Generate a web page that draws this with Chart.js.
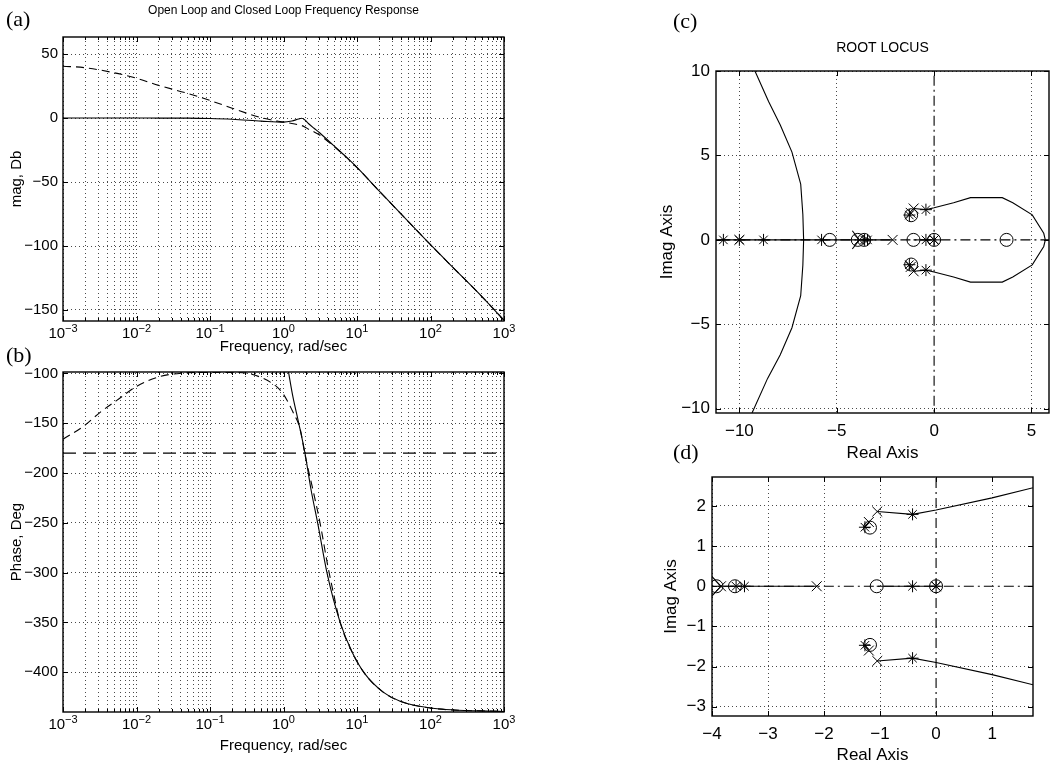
<!DOCTYPE html>
<html>
<head>
<meta charset="utf-8">
<script src="https://cdn.jsdelivr.net/npm/chart.js@4.4.0/dist/chart.umd.min.js"></script>
<style>
  html, body { margin: 0; padding: 0; background: #fff; }
  #fig { position: relative; width: 1057px; height: 771px; overflow: hidden; background: #fff; }
  #fig canvas { position: absolute; left: 0; top: 0; }
  .tag { position: absolute; font-family: "Liberation Serif", "Times New Roman", serif; font-size: 22px; line-height: 22px; color: #000; }
</style>
</head>
<body>
<div id="fig">
  <canvas id="magPlot" width="1057" height="771"></canvas>
  <canvas id="phasePlot" width="1057" height="771"></canvas>
  <canvas id="locusPlot" width="1057" height="771"></canvas>
  <canvas id="locusZoom" width="1057" height="771"></canvas>
  <div class="tag" style="left:6px;top:8px">(a)</div>
  <div class="tag" style="left:6px;top:344px">(b)</div>
  <div class="tag" style="left:673px;top:10px">(c)</div>
  <div class="tag" style="left:673px;top:441px">(d)</div>
</div>
<script>
const SANS = '"Liberation Sans", Arial, Helvetica, sans-serif';
const GRID = '#4a4a4a';

// Bode magnitude, dB (solid = closed loop, dashed = open loop)
const freqMag   = [0.001, 0.002, 0.005, 0.01, 0.02, 0.05, 0.1, 0.2, 0.5, 1, 1.3, 1.6, 1.77, 1.95, 2.2, 2.6, 3.1, 4.7, 7, 10, 20, 50, 100, 200, 500, 1000];
const magClosed = [0, 0, 0, 0, -0.05, -0.1, -0.4, -1.0, -2.4, -3.2, -2.3, -0.8, -0.2, -1.5, -4.5, -8, -11.5, -21, -30, -38.6, -57, -81, -99, -116.5, -139.5, -158];
const magOpen   = [40.5, 39.3, 35.3, 31.1, 25.5, 19.2, 13.7, 7.7, 0.2, -3.2, -4.3, -5.3, -5.9, -7, -8.8, -10.8, -13.3, -21.5, -30.2, -38.7, -57, -81, -99, -116.5, -139.5, -158];

// Bode phase, degrees
const freqOpen    = [0.001, 0.0019, 0.0032, 0.0054, 0.01, 0.021, 0.044, 0.075, 0.21, 0.38, 0.8, 1, 1.35, 1.7, 1.94, 2.5, 3.14, 4, 4.7, 5.9, 8.6, 12.9, 22.7, 38, 100, 1000];
const phaseOpen   = [-166, -153, -139, -127, -113, -103, -99.5, -99, -99, -101, -113, -121, -139, -157, -180, -216, -250, -293, -318, -350, -380, -402, -420, -429, -436, -439.5];
const freqClosed  = [1.16, 1.34, 1.58, 1.96, 2.36, 2.95, 3.9, 5.9, 8.6, 12.9, 22.7, 38, 100, 1000];
const phaseClosed = [-97, -123, -147, -180, -216, -252, -300, -350, -380, -402, -420, -429, -436, -439.5];
const phaseRef = -180;

const magTicks = [-150, -100, -50, 0, 50];
const phaseTicks = [-400, -350, -300, -250, -200, -150, -100];
const decades = [-3, -2, -1, 0, 1, 2, 3];

// Root locus branches
const leftBranchX = [-9.2, -8.5, -7.9, -7.3, -6.85, -6.74, -6.7, -6.74, -6.85, -7.3, -7.9, -8.55, -9.35];
const leftBranchY = [10, 8.2, 6.8, 5.2, 3.3, 1.5, 0, -1.5, -3.3, -5.2, -6.8, -8.2, -10.25];
const loopX = [-1.05, -0.42, 0, 1.0, 1.87, 3.5, 4.04, 5.04, 5.63, 5.71, 5.63, 5.04, 4.04, 3.5, 1.87, 1.0, 0, -0.42, -1.05];
const loopY = [1.86, 1.79, 1.9, 2.2, 2.5, 2.5, 2.2, 1.48, 0.39, 0, -0.39, -1.48, -2.2, -2.5, -2.5, -2.2, -1.9, -1.79, -1.86];
const wedgeX = [-4.2, -3.84, -4.2];
const wedgeY = [0.54, 0, -0.54];
const upperStubX = [-1.2, -1.27, -1.18];
const upperStubY = [1.6, 1.47, 1.46];
const lowerStubY = [-1.6, -1.47, -1.46];
const realSegAX = [-12, -2.13];
const realSegBX = [-1.06, 0];

// open-loop poles (x), zeros (o) and closed-loop roots (*)
const polesX = [-10, -3.84, -2.13, 0, -1.05, -1.05, -1.2, -1.2];
const polesY = [0, 0, 0, 0, 1.86, -1.86, 1.6, -1.6];
const zerosX = [-5.36, -3.92, -3.59, -1.06, 0, 3.72, -1.18, -1.18];
const zerosY = [0, 0, 0, 0, 0, 0, 1.46, -1.46];
const rootsX = [-10.82, -10, -8.76, -5.78, -3.57, -3.42, -0.42, 0, -0.42, -0.42, -1.27, -1.27];
const rootsY = [0, 0, 0, 0, 0, 0, 0, 0, 1.79, -1.79, 1.47, -1.47];

const locusTicksX = [-10, -5, 0, 5];
const locusTicksY = [-10, -5, 0, 5, 10];
const zoomTicksX = [-4, -3, -2, -1, 0, 1];
const zoomTicksY = [-3, -2, -1, 0, 1, 2];

function pts(xs, ys) { return xs.map((x, i) => ({x, y: ys[i]})); }
function flat(xs, y) { return xs.map(x => ({x, y})); }
function minus(v) { return v < 0 ? '\u2212' + Math.abs(v) : String(v); }
function isDecade(v) { const l = Math.log10(v); return Math.abs(l - Math.round(l)) < 1e-9; }

// 1..9 per decade for the log grid
const freqGrid = [];
decades.slice(0, -1).forEach(d => {
  for (let m = 1; m < 10; m++) freqGrid.push(m * Math.pow(10, d));
});
freqGrid.push(1000);

function curve(data, dash, smooth) {
  return {
    data, showLine: true, fill: false, borderColor: '#000', borderWidth: 1.1,
    borderDash: dash || [], pointRadius: 0,
    cubicInterpolationMode: smooth ? 'monotone' : 'default', tension: 0
  };
}
function marks(data, style, r) {
  return {
    data, showLine: false, pointStyle: style, pointRadius: r,
    borderColor: '#000', backgroundColor: 'rgba(0,0,0,0)', pointBorderWidth: 1
  };
}

function axis(o) {
  return {
    type: o.type || 'linear', min: o.min, max: o.max,
    afterBuildTicks: s => { s.ticks = o.ticks.map(v => ({value: v})); },
    afterFit: s => { if (o.horizontal) s.height = o.box; else s.width = o.box; },
    ticks: {
      display: o.labels !== false, autoSkip: false, maxRotation: 0, minRotation: 0,
      padding: o.pad || 5, color: '#000', font: {family: SANS, size: o.size},
      callback: v => minus(v)
    },
    grid: {
      drawTicks: false, lineWidth: 1,
      color: c => (o.hideZero && c.tick && c.tick.value === 0) ? 'rgba(0,0,0,0)' : GRID
    },
    border: {display: false, dash: [1, 3]},
    title: {display: true, text: o.title, color: '#000', padding: 0, font: {family: SANS, size: o.size}}
  };
}

// frame, inward tick marks, panel title and 10^n labels
const panelDecor = {
  id: 'panelDecor',
  afterDraw(chart, args, o) {
    const {ctx, chartArea: a} = chart;
    const xs = chart.scales.x, ys = chart.scales.y;
    ctx.save();
    ctx.strokeStyle = '#000';
    ctx.lineWidth = 1;
    ctx.beginPath();
    xs.ticks.forEach(t => {
      const px = Math.round(xs.getPixelForValue(t.value)) + 0.5;
      const len = (!o.logX || isDecade(t.value)) ? 5 : 3;
      ctx.moveTo(px, a.bottom); ctx.lineTo(px, a.bottom - len);
      ctx.moveTo(px, a.top); ctx.lineTo(px, a.top + len);
    });
    ys.ticks.forEach(t => {
      const py = Math.round(ys.getPixelForValue(t.value)) + 0.5;
      ctx.moveTo(a.left, py); ctx.lineTo(a.left + 5, py);
      ctx.moveTo(a.right, py); ctx.lineTo(a.right - 5, py);
    });
    ctx.stroke();
    ctx.lineWidth = 1.4;
    ctx.strokeRect(a.left, a.top, a.right - a.left, a.bottom - a.top);

    ctx.fillStyle = '#000';
    if (o.title) {
      ctx.font = o.titleSize + 'px ' + SANS;
      ctx.textAlign = 'center';
      ctx.textBaseline = 'middle';
      ctx.fillText(o.title, (a.left + a.right) / 2, o.titleY);
    }
    if (o.logX) {
      ctx.textAlign = 'left';
      ctx.textBaseline = 'alphabetic';
      decades.forEach(d => {
        const px = xs.getPixelForValue(Math.pow(10, d));
        const base = '10', sup = minus(d);
        ctx.font = '15px ' + SANS;
        const w1 = ctx.measureText(base).width;
        ctx.font = '11px ' + SANS;
        const w2 = ctx.measureText(sup).width;
        const x0 = px - (w1 + w2) / 2;
        const y0 = a.bottom + o.labelGap;
        ctx.font = '15px ' + SANS;
        ctx.fillText(base, x0, y0);
        ctx.font = '11px ' + SANS;
        ctx.fillText(sup, x0 + w1, y0 - 6);
      });
    }
    ctx.restore();
  }
};

function panel(id, frame, yBox, xBox, scales, datasets, decor) {
  const canvas = document.getElementById(id);
  return new Chart(canvas, {
    type: 'scatter',
    data: {datasets},
    options: {
      responsive: false, animation: false, events: [],
      layout: {padding: {
        left: frame.l - yBox, top: frame.t,
        right: canvas.width - frame.r, bottom: canvas.height - frame.b - xBox
      }},
      scales,
      plugins: {legend: {display: false}, tooltip: {enabled: false}, panelDecor: decor}
    },
    plugins: [panelDecor]
  });
}

// (a) magnitude
panel('magPlot', {l: 63, t: 37, r: 504, b: 321}, 55, 35, {
  x: axis({type: 'logarithmic', min: 1e-3, max: 1e3, ticks: freqGrid, horizontal: true, box: 35,
           labels: false, title: 'Frequency, rad/sec', size: 15}),
  y: axis({min: -158.6, max: 63.3, ticks: magTicks, box: 55, title: 'mag, Db', size: 15, pad: 5})
}, [
  curve(pts(freqMag, magClosed), [], true),
  curve(pts(freqMag, magOpen), [8, 5], true)
], {title: 'Open Loop and Closed Loop Frequency Response', titleSize: 12, titleY: 11, logX: true, labelGap: 17});

// (b) phase
panel('phasePlot', {l: 63, t: 372, r: 504, b: 712}, 55, 43, {
  x: axis({type: 'logarithmic', min: 1e-3, max: 1e3, ticks: freqGrid, horizontal: true, box: 43,
           labels: false, title: 'Frequency, rad/sec', size: 15}),
  y: axis({min: -440, max: -98.5, ticks: phaseTicks, box: 55, title: 'Phase, Deg', size: 15, pad: 5})
}, [
  curve(pts(freqClosed, phaseClosed), [], true),
  curve(pts(freqOpen, phaseOpen), [8, 5], true),
  curve(flat([1e-3, 1e3], phaseRef), [13, 7], false)
], {logX: true, labelGap: 17});

function locusSets() {
  return [
    marks(pts(polesX, polesY), 'crossRot', 7),
    marks(pts(zerosX, zerosY), 'circle', 6.5),
    marks(pts(rootsX, rootsY), 'star', 6),
    curve(pts(leftBranchX, leftBranchY)),
    curve(pts(loopX, loopY)),
    curve(pts(wedgeX, wedgeY)),
    curve(pts(upperStubX, upperStubY)),
    curve(pts(upperStubX, lowerStubY)),
    curve(flat(realSegAX, 0)),
    curve(flat(realSegBX, 0)),
    curve(flat([-12, 7], 0), [10, 4, 2, 4]),
    curve(pts([0, 0], [-11, 11]), [10, 4, 2, 4])
  ];
}

// (c) root locus
panel('locusPlot', {l: 716, t: 71, r: 1056, b: 413}, 59, 51, {
  x: axis({min: -11.2, max: 5.9, ticks: locusTicksX, horizontal: true, box: 51, title: 'Real Axis', size: 17, pad: 8, hideZero: true}),
  y: axis({min: -10.25, max: 10, ticks: locusTicksY, box: 59, title: 'Imag Axis', size: 17, pad: 6, hideZero: true})
}, locusSets(), {title: 'ROOT LOCUS', titleSize: 14, titleY: 48});

// (d) close-up of the locus near the origin
panel('locusZoom', {l: 712, t: 477, r: 1033, b: 716}, 51, 50, {
  x: axis({min: -4, max: 1.73, ticks: zoomTicksX, horizontal: true, box: 50, title: 'Real Axis', size: 17, pad: 8, hideZero: true}),
  y: axis({min: -3.23, max: 2.72, ticks: zoomTicksY, box: 51, title: 'Imag Axis', size: 17, pad: 6, hideZero: true})
}, locusSets(), {});
</script>
</body>
</html>
